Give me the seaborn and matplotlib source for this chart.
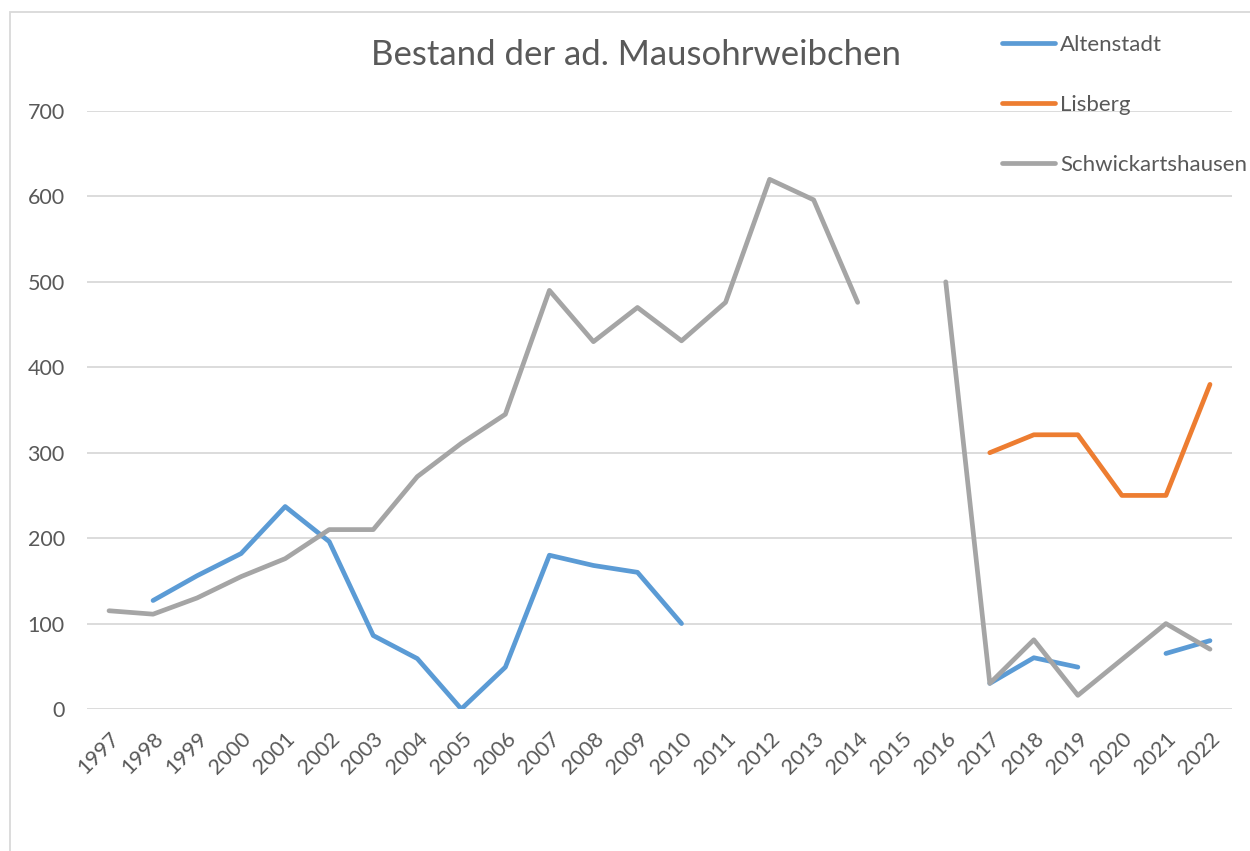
import numpy as np
import pandas as pd
import matplotlib.pyplot as plt
import seaborn as sns
from matplotlib.patches import Rectangle

# Daten (NaN = keine Zaehlung)
jahre = list(range(1997, 2023))
altenstadt = [np.nan, 127, 156, 182, 237, 196, 86, 59, 0, 49, 180, 168, 160, 100,
              np.nan, np.nan, np.nan, np.nan, np.nan, np.nan, 30, 60, 49, np.nan, 65, 80]
lisberg = [np.nan] * 20 + [300, 321, 321, 250, 250, 380]
schwickartshausen = [115, 111, 130, 155, 176, 210, 210, 272, 311, 345, 490, 430, 470, 431,
                     476, 620, 596, 476, np.nan, 500, 30, 81, 16, 58, 100, 70]

serien = ['Altenstadt', 'Lisberg', 'Schwickartshausen']
farben = ['#5B9BD5', '#ED7D31', '#A5A5A5']

# Luecken: jede zusammenhaengende Strecke bekommt eine eigene Einheit
rows = []
for name, werte in zip(serien, [altenstadt, lisberg, schwickartshausen]):
    seg = 0
    for i, (j, w) in enumerate(zip(jahre, werte)):
        if np.isnan(w):
            seg += 1
            continue
        rows.append({'pos': i, 'jahr': j, 'wert': w, 'ort': name, 'seg': f'{name}_{seg}'})
df = pd.DataFrame(rows)

sns.set_theme(style='white')
plt.rcParams['font.family'] = ['Lato', 'DejaVu Sans']

fig = plt.figure(figsize=(12.5, 8.51), dpi=100)
ax = fig.add_axes([87 / 1250, 1 - 709 / 851, (1232 - 87) / 1250, (709 - 111) / 851])

sns.lineplot(data=df, x='pos', y='wert', hue='ort', units='seg', estimator=None,
             palette=dict(zip(serien, farben)), hue_order=serien,
             linewidth=3.4, ax=ax, legend=True, solid_capstyle='round')

ax.set_xlim(-0.5, len(jahre) - 0.5)
ax.set_ylim(0, 700)
ax.set_yticks(range(0, 701, 100))
ax.set_xticks(range(len(jahre)))
ax.set_xticklabels([str(j) for j in jahre], rotation=45, ha='right', rotation_mode='anchor')
ax.tick_params(axis='y', colors='#595959', labelsize=15.5, length=0, pad=16)
ax.tick_params(axis='x', colors='#595959', labelsize=15.5, length=0, pad=14)
ax.yaxis.grid(True, color='#D9D9D9', linewidth=1.3)
ax.set_axisbelow(True)
for s in ax.spines.values():
    s.set_visible(False)
ax.set_xlabel('')
ax.set_ylabel('')

handles, labels = ax.get_legend_handles_labels()
ax.get_legend().remove()
leg = fig.legend(handles, labels, loc='upper left', bbox_to_anchor=(982 / 1250, 1 - 15 / 851),
                 frameon=False, fontsize=16, handlelength=2.4, handletextpad=0.22,
                 labelspacing=1.8, labelcolor='#595959')
for h in leg.legend_handles:
    h.set_linewidth(3.4)

fig.text(636 / 1250, 1 - 55 / 851, 'Bestand der ad. Mausohrweibchen', ha='center', va='center',
         fontsize=25, color='#595959')

fig.patches.append(Rectangle((10 / 1250, -0.05), 1.1, 1 - 12 / 851 + 0.05, transform=fig.transFigure,
                             fill=False, edgecolor='#D9D9D9', linewidth=1.3))

fig.savefig('out.png', dpi=100)
